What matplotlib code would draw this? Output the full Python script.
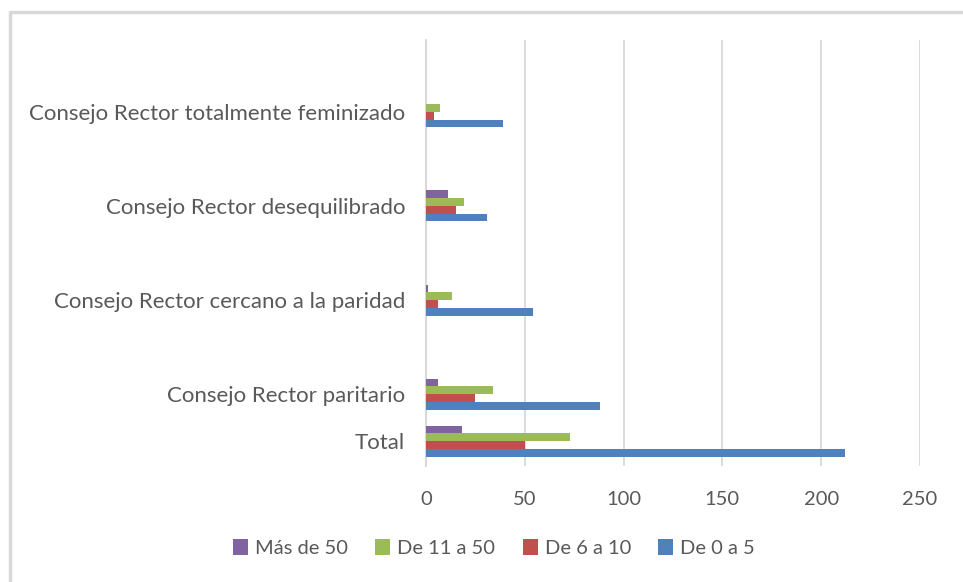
import matplotlib
matplotlib.use("Agg")
import matplotlib.pyplot as plt
from matplotlib.lines import Line2D
import numpy as np

# ===================================== Data
categories = [
    "Total",
    "Consejo Rector paritario",
    "Consejo Rector cercano a la paridad",
    "Consejo Rector desequilibrado",
    "Consejo Rector totalmente feminizado",
]
de_0_a_5 = [212, 88, 54, 31, 39]
de_6_a_10 = [50, 25, 6, 15, 4]
de_11_a_50 = [73, 34, 13, 19, 7]
mas_de_50 = [18, 6, 1, 11, 0]

series_labels = ["Más de 50", "De 11 a 50", "De 6 a 10", "De 0 a 5"]
series_values = [mas_de_50, de_11_a_50, de_6_a_10, de_0_a_5]
series_colors = ["#8064A2", "#9BBB59", "#C0504D", "#4F81BD"]

x_ticks = [0, 50, 100, 150, 200, 250]

# ===================================== Layout
# category rows as the original sheet leaves them (blank rows between groups)
row_pos = np.array([0, 1, 3, 5, 7])
bar_h = 0.165
text_color = "#595959"
grid_color = "#D9D9D9"

plt.rcParams['font.family'] = ['Lato', 'DejaVu Sans']

fig = plt.figure(figsize=(9.63, 5.82), dpi=100)
ax = fig.add_axes([426 / 963, 1 - 466 / 582, (920 - 426) / 963, (466 - 40) / 582])

# purple on top, blue at the bottom of each group
for i, (lab, vals, col) in enumerate(zip(series_labels, series_values, series_colors)):
    offset = (1.5 - i) * bar_h
    ax.barh(row_pos + offset, vals, height=bar_h, color=col, label=lab, zorder=3)

ax.set_xlim(0, 250)
ax.set_ylim(-0.53, 8.53)
ax.set_xticks(x_ticks)
ax.set_xticklabels([str(t) for t in x_ticks])
ax.set_yticks(row_pos)
ax.set_yticklabels(categories)
ax.tick_params(axis='both', length=0, colors=text_color)
ax.tick_params(axis='x', pad=18, labelsize=14.5)
ax.tick_params(axis='y', pad=15, labelsize=16)

ax.grid(axis='x', color=grid_color, linewidth=1.3, zorder=0)
for s in ["top", "right", "bottom"]:
    ax.spines[s].set_visible(False)
ax.spines["left"].set_color(grid_color)
ax.spines["left"].set_linewidth(1.5)

leg = fig.legend(loc='center', bbox_to_anchor=(494 / 963, 1 - 548 / 582), ncol=4,
                 frameon=False, fontsize=14.5, handlelength=0.75, handleheight=0.8,
                 handletextpad=0.35, columnspacing=1.35)
for t in leg.get_texts():
    t.set_color(text_color)

# outer chart frame (left and top edges only visible)
fig.add_artist(Line2D([9.5 / 963, 9.5 / 963, 1.0], [0.0, 1 - 12 / 582, 1 - 12 / 582],
                      transform=fig.transFigure, color="#D9D9D9", linewidth=2.5))

plt.savefig("out.png", dpi=100)
